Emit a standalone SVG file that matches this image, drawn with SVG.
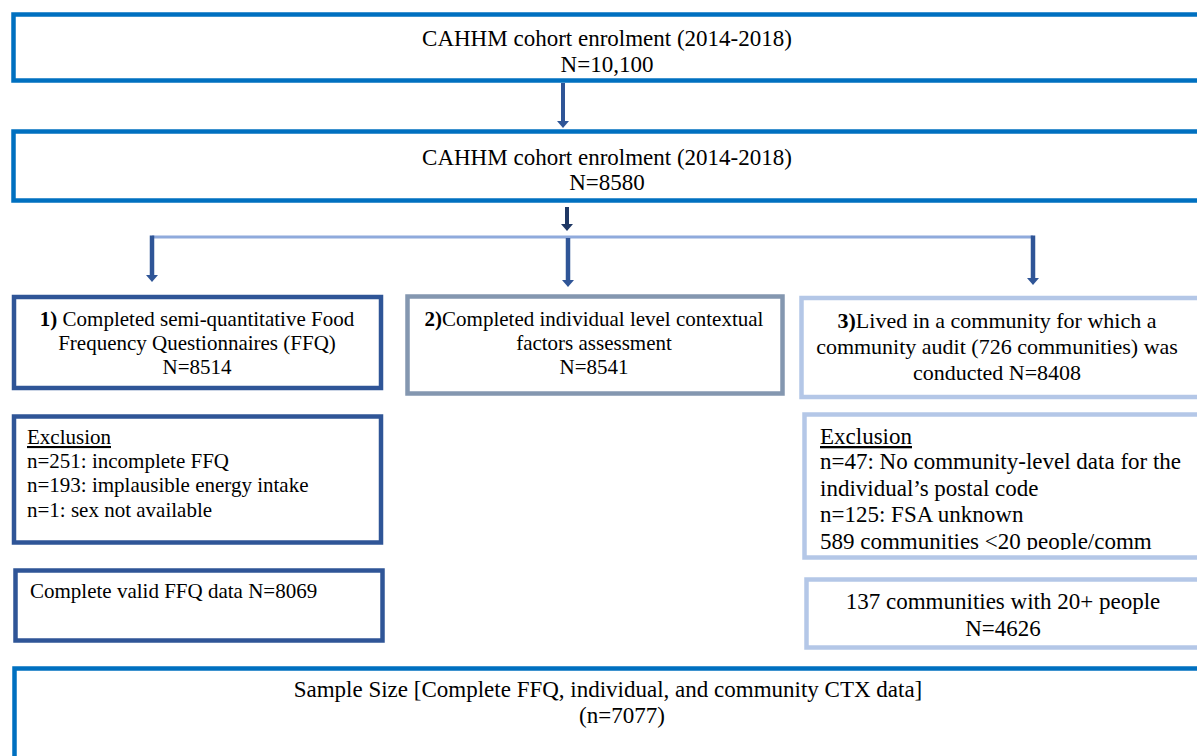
<svg xmlns="http://www.w3.org/2000/svg" width="1197" height="756" viewBox="0 0 1197 756">
<style>
text{font-family:"Liberation Serif","Times New Roman",serif;fill:#000}
.c{text-anchor:middle}
.f21{font-size:21px}
.f22{font-size:22px}
.f23{font-size:23px}
.box{fill:#fff;stroke-width:4.5}
.bright{stroke:#0070C0}
.dark{stroke:#2F5597}
.gray{stroke:#8497B0}
.light{stroke:#B4C7E7}
.u{text-decoration:underline}
</style>
<defs>
<marker id="ahD" viewBox="0 0 12 7" refX="6" refY="0.5" markerWidth="12" markerHeight="7" orient="0" markerUnits="userSpaceOnUse">
<path d="M0,0 L12,0 L6,7 Z" fill="#2F5597"/>
</marker>
<marker id="ahK" viewBox="0 0 12 7" refX="6" refY="0.5" markerWidth="12" markerHeight="7" orient="0" markerUnits="userSpaceOnUse">
<path d="M0,0 L12,0 L6,7 Z" fill="#1F3864"/>
</marker>
<clipPath id="clipEx3"><rect x="806" y="416" width="400" height="134"/></clipPath>
</defs>

<g id="enrol1">
<rect class="box bright" x="13.5" y="14.5" width="1200" height="66"/>
<text class="c f23" x="607" y="46">CAHHM cohort enrolment (2014-2018)</text>
<text class="c f23" x="607" y="72">N=10,100</text>
</g>

<g id="enrol2">
<rect class="box bright" x="13.5" y="131.5" width="1200" height="69"/>
<text class="c f23" x="607" y="165">CAHHM cohort enrolment (2014-2018)</text>
<text class="c f23" x="607" y="190">N=8580</text>
</g>

<g id="connectors">
<line x1="563" y1="83" x2="563" y2="121.5" stroke="#2F5597" stroke-width="4" marker-end="url(#ahD)"/>
<line x1="567" y1="207" x2="567" y2="224.5" stroke="#1F3864" stroke-width="4" marker-end="url(#ahK)"/>
<polyline points="152,237 1033,237" fill="none" stroke="#8FAADC" stroke-width="3"/>
<line x1="152" y1="235.5" x2="152" y2="275.5" stroke="#2F5597" stroke-width="4.5" marker-end="url(#ahD)"/>
<line x1="568" y1="238" x2="568" y2="280.5" stroke="#2F5597" stroke-width="4.5" marker-end="url(#ahD)"/>
<line x1="1033" y1="235.5" x2="1033" y2="278.5" stroke="#2F5597" stroke-width="4.5" marker-end="url(#ahD)"/>
</g>

<g id="ffq">
<rect class="box dark" x="14" y="297" width="367" height="91"/>
<text class="c f21" x="197" y="326"><tspan font-weight="bold">1)</tspan> Completed semi-quantitative Food</text>
<text class="c f21" x="197" y="350">Frequency Questionnaires (FFQ)</text>
<text class="c f21" x="197" y="374">N=8514</text>
</g>

<g id="individual">
<rect class="box gray" x="407.5" y="296.5" width="375" height="97"/>
<text class="c f21" x="594" y="326"><tspan font-weight="bold">2)</tspan>Completed individual level contextual</text>
<text class="c f21" x="594" y="350">factors assessment</text>
<text class="c f21" x="594" y="374">N=8541</text>
</g>

<g id="community">
<rect class="box light" x="801.5" y="298" width="420" height="99"/>
<text class="c f22" x="997" y="328"><tspan font-weight="bold">3)</tspan>Lived in a community for which a</text>
<text class="c f22" x="997" y="354">community audit (726 communities) was</text>
<text class="c f22" x="997" y="380">conducted N=8408</text>
</g>

<g id="exclusion1">
<rect class="box dark" x="14" y="416.5" width="367" height="126"/>
<text class="f21 u" x="27" y="444">Exclusion</text>
<text class="f21" x="27" y="468">n=251: incomplete FFQ</text>
<text class="f21" x="27" y="492">n=193: implausible energy intake</text>
<text class="f21" x="27" y="517">n=1: sex not available</text>
</g>

<g id="valid">
<rect class="box dark" x="15.5" y="570.5" width="367" height="70"/>
<text class="f21" x="30" y="598">Complete valid FFQ data N=8069</text>
</g>

<g id="exclusion3">
<rect class="box light" x="804.5" y="414.5" width="420" height="143"/>
<g clip-path="url(#clipEx3)">
<text class="f23 u" x="820" y="444">Exclusion</text>
<text class="f23" x="820" y="469">n=47: No community-level data for the</text>
<text class="f23" x="820" y="496">individual’s postal code</text>
<text class="f23" x="820" y="522">n=125: FSA unknown</text>
<text class="f23" x="820" y="549">589 communities &lt;20 people/comm</text>
</g>
</g>

<g id="communities20">
<rect class="box light" x="806.5" y="579.5" width="420" height="68"/>
<text class="c f23" x="1003" y="609">137 communities with 20+ people</text>
<text class="c f23" x="1003" y="636">N=4626</text>
</g>

<g id="sample">
<rect class="box bright" x="14.5" y="668.5" width="1200" height="120"/>
<text class="c f23" x="608" y="697">Sample Size [Complete FFQ, individual, and community CTX data]</text>
<text class="c f23" x="622" y="723">(n=7077)</text>
</g>
</svg>
